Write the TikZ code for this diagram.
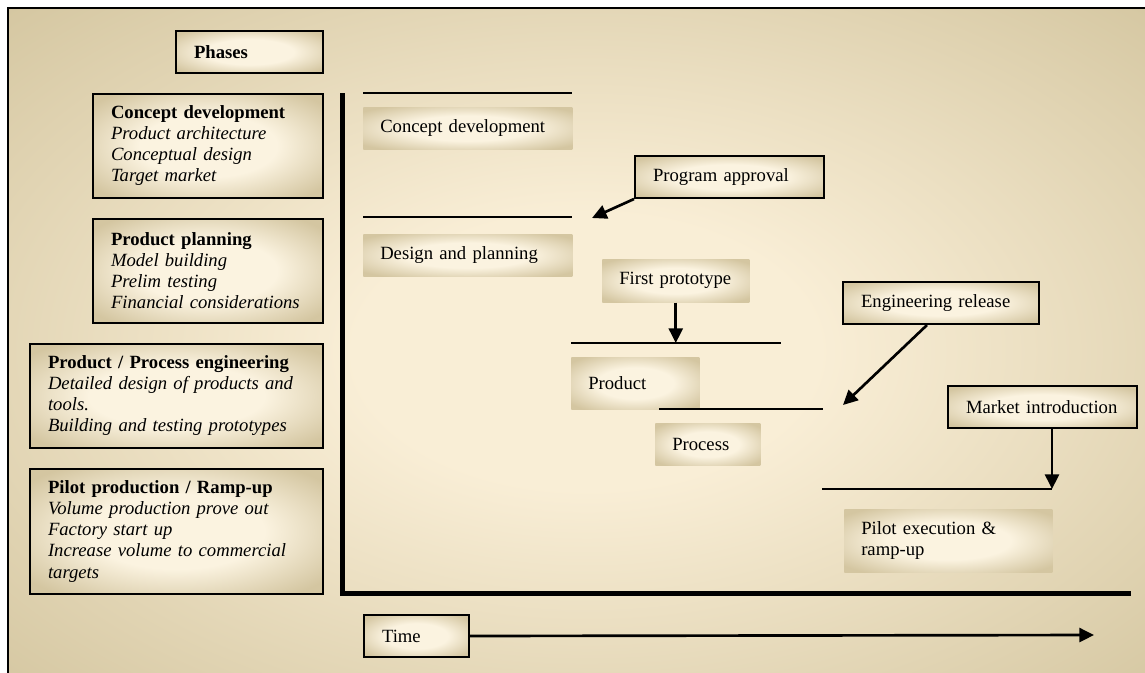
\documentclass[tikz,border=0pt]{standalone}
\usepackage{fontspec}
\setmainfont{Liberation Serif}
\usetikzlibrary{arrows.meta}

\definecolor{framecream}{RGB}{249,238,214}
\definecolor{frametan}{RGB}{212,198,160}
\definecolor{boxcream}{RGB}{251,243,224}
\definecolor{boxtan}{RGB}{212,198,161}

\pgfdeclareradialshading{frameglow}{\pgfpointorigin}{color(0bp)=(framecream); color(10bp)=(framecream); color(36bp)=(frametan); color(50bp)=(frametan)}
\pgfdeclareradialshading{boxglow}{\pgfpointorigin}{color(0bp)=(boxcream); color(15bp)=(boxcream); color(32bp)=(boxtan); color(50bp)=(boxtan)}

\begin{document}
\begin{tikzpicture}[x=0.75pt,y=-0.75pt,font=\fontsize{14}{15.75}\selectfont]

    \useasboundingbox (0,0) rectangle (1145,672);
    \draw [line width=0.8pt,shading=frameglow] (8,8) rectangle (1165,695);

    \begin{scope}[every node/.style={draw,line width=1.5pt,anchor=north west,align=left,inner xsep=13.5pt,inner ysep=0pt,shade,shading=boxglow}]
        \node[text width=83.25pt,minimum height=31.5pt] (phases) at (175,30) {\textbf{Phases}};
        \node[text width=145.5pt,minimum height=78pt] (concept) at (92,93)
            {\textbf{Concept development}\\ \textit{Product architecture}\\ \textit{Conceptual design}\\ \textit{Target market}};
        \node[text width=145.5pt,minimum height=78pt] (planning) at (92,218)
            {\textbf{Product planning}\\ \textit{Model building}\\ \textit{Prelim testing}\\ \textit{Financial considerations}};
        \node[text width=192.75pt,minimum height=78pt] (engineering) at (29,343)
            {\textbf{Product / Process engineering}\\ \textit{Detailed design of products and}\\ \textit{tools.}\\ \textit{Building and testing prototypes}};
        \node[text width=192.75pt,minimum height=93.75pt] (pilot) at (29,468)
            {\textbf{Pilot production / Ramp-up}\\ \textit{Volume production prove out}\\ \textit{Factory start up}\\ \textit{Increase volume to commercial}\\ \textit{targets}};
        % milestones
        \node[text width=114.75pt,minimum height=31.5pt] (approval) at (634,155) {Program approval};
        \node[text width=120pt,minimum height=31.5pt] (release) at (842,281) {Engineering release};
        \node[text width=114.75pt,minimum height=31.5pt] (market) at (947,385) {Market introduction};
        \node[text width=51.75pt,minimum height=31.5pt] (time) at (363,614) {Time};
    \end{scope}

    \begin{scope}[every node/.style={anchor=north west,align=left,inner xsep=12.75pt,inner ysep=0pt,shade,shading=boxglow}]
        \node[text width=131.25pt,minimum height=31.5pt] (cdev) at (363,107) {Concept development};
        \node[text width=131.25pt,minimum height=31.5pt] (dplan) at (363,234) {Design and planning};
        \node[text width=84.75pt,minimum height=32.25pt] (proto) at (602,259) {First prototype};
        \node[text width=70.5pt,minimum height=39pt] (product) at (571,357) {Product\\[6pt]};
        \node[text width=53.25pt,minimum height=31.5pt] (process) at (655,423) {Process};
        \node[text width=130.5pt,minimum height=47.25pt] (pilotexec) at (844,509) {Pilot execution \&\\ ramp-up};
    \end{scope}

    \coordinate (l1s) at (363,93);   \coordinate (l1e) at (572,93);
    \coordinate (l2s) at (363,217);  \coordinate (l2e) at (572,217);
    \coordinate (l3s) at (571,343);  \coordinate (l3e) at (781,343);
    \coordinate (l4s) at (659,409);  \coordinate (l4e) at (823,409);
    \coordinate (l5s) at (822,489);  \coordinate (l5e) at (1052,489);
    \coordinate (apptip) at (592,218);
    \coordinate (reltip) at (843,405);
    \coordinate (tend) at (1094,635);
    \coordinate (ytop) at (342.5,93);
    \coordinate (orig) at (342.5,593.5);
    \coordinate (xend) at (1131,593.5);

    \draw [line width=3.75pt] (ytop) -- (orig) -- (xend);
    \foreach \i in {1,...,5}
        \draw [line width=1.2pt] (l\i s) -- (l\i e);

    \begin{scope}[every edge/.style={draw,line width=2pt,-{Triangle[length=11pt,width=10.5pt]}}]
        \path (approval.south west) edge (apptip);
        \path (proto.south) edge (proto.south |- l3s);
        \path ([xshift=63.75pt]release.south west) edge (reltip);
        \path ([xshift=78.75pt]market.south west) edge (l5e);
        \path (time.east) edge (tend);
    \end{scope}

\end{tikzpicture}
\end{document}
